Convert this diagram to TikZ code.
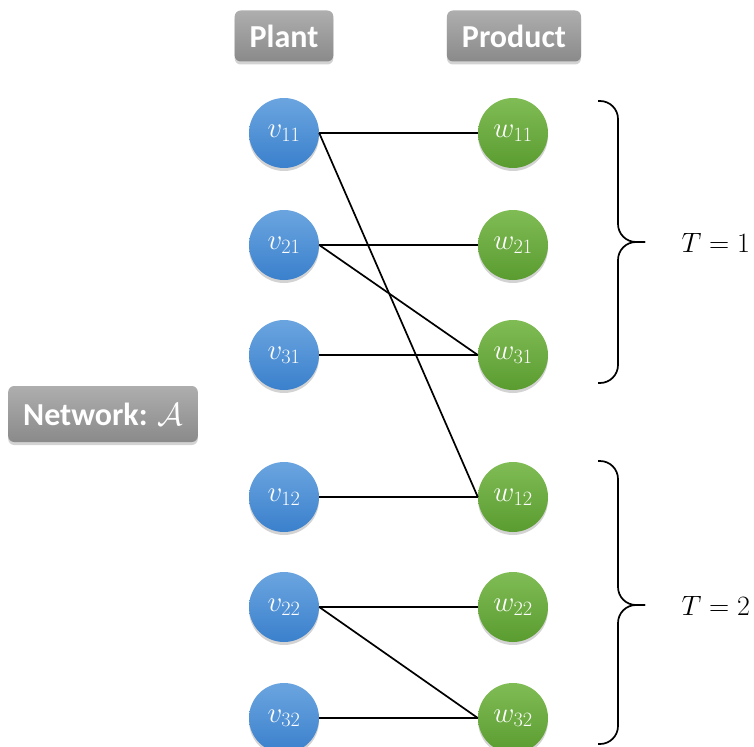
\documentclass[tikz,border=0pt]{standalone}
\usepackage{fix-cm}
\usepackage{fontspec}
\newfontfamily\labelfont{Carlito}
\usetikzlibrary{shadows}
\definecolor{bluetop}{HTML}{6BA5E0}
\definecolor{bluebot}{HTML}{3A80CC}
\definecolor{greentop}{HTML}{80BC55}
\definecolor{greenbot}{HTML}{5A9C30}
\definecolor{graytop}{HTML}{AEAEAE}
\definecolor{graybot}{HTML}{8A8A8A}
\tikzset{
  vnode/.style={circle, minimum size=70pt, inner sep=0pt, top color=bluetop, bottom color=bluebot,
    draw=none, text=white, font=\fontsize{29}{34}\selectfont,
    drop shadow={shadow xshift=0pt, shadow yshift=-3pt, opacity=0.35}},
  wnode/.style={vnode, top color=greentop, bottom color=greenbot},
  tag/.style={rounded corners=6pt, top color=graytop, bottom color=graybot, draw=none, text=white,
    font=\labelfont\bfseries\fontsize{32}{38}\selectfont, inner xsep=15pt, minimum height=51pt,
    drop shadow={shadow xshift=0pt, shadow yshift=-3pt, opacity=0.35}},
  link/.style={line width=1.7pt, black},
  bracepath/.style={line width=1.7pt, black, rounded corners=18pt},
  tlabel/.style={font=\fontsize{28}{34}\selectfont, anchor=west}
}
\begin{document}
\begin{tikzpicture}[x=1pt, y=-1pt]
\useasboundingbox (0,0) rectangle (754,746);
\node[tag] (plant) at (284,36) {Plant};
\node[tag] (product) at (514,36) {Product};
\node[tag, minimum height=56pt] (network) at (103,414) {Network: $\mathcal{A}$};

\node[vnode] (v11) at (284,133) {$v_{11}$};
\node[vnode] (v21) at (284,245) {$v_{21}$};
\node[vnode] (v31) at (284,355) {$v_{31}$};
\node[vnode] (v12) at (284,497) {$v_{12}$};
\node[vnode] (v22) at (284,607) {$v_{22}$};
\node[vnode] (v32) at (284,718) {$v_{32}$};

\node[wnode] (w11) at (513,133) {$w_{11}$};
\node[wnode] (w21) at (513,245) {$w_{21}$};
\node[wnode] (w31) at (513,355) {$w_{31}$};
\node[wnode] (w12) at (513,497) {$w_{12}$};
\node[wnode] (w22) at (513,607) {$w_{22}$};
\node[wnode] (w32) at (513,718) {$w_{32}$};

\draw[link] (v11.east) -- (w11.west);
\draw[link] (v11.east) -- (w12.west);
\draw[link] (v21.east) -- (w21.west);
\draw[link] (v21.east) -- (w31.west);
\draw[link] (v31.east) -- (w31.west);
\draw[link] (v12.east) -- (w12.west);
\draw[link] (v22.east) -- (w22.west);
\draw[link] (v22.east) -- (w32.west);
\draw[link] (v32.east) -- (w32.west);

\coordinate (b1tip) at (645,242);
\coordinate (b2tip) at (645,605);
\draw[bracepath] (598,101) -| (618,242) -- (b1tip);
\draw[bracepath] (598,383) -| (618,242) -- (b1tip);
\draw[bracepath] (598,461) -| (618,605) -- (b2tip);
\draw[bracepath] (598,744) -| (618,605) -- (b2tip);

\node[tlabel] (t1) at (678,243) {$T=1$};
\node[tlabel] (t2) at (678,606) {$T=2$};
\end{tikzpicture}
\end{document}
